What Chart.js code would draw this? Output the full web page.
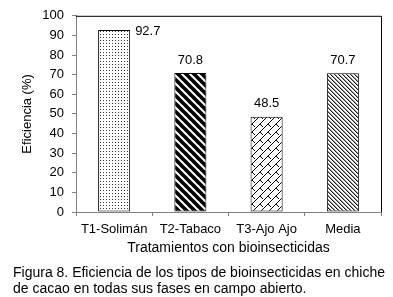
<!DOCTYPE html>
<html>
<head>
<meta charset="utf-8">
<script src="https://cdn.jsdelivr.net/npm/chart.js@4/dist/chart.umd.min.js"></script>
<style>
  html, body { margin: 0; padding: 0; background: #fff; }
  #wrap { position: relative; width: 393px; height: 297px; overflow: hidden; }
  #c { position: absolute; left: 0; top: 0; }
  .cap { position: absolute; left: 13px; font-family: "Liberation Sans", Arial, sans-serif; font-size: 14px; color: #000; white-space: nowrap; line-height: 15px; }
</style>
</head>
<body>
<div id="wrap">
  <canvas id="c" width="393" height="297"></canvas>
  <div class="cap" id="cap1" style="top:265px">Figura 8. Eficiencia de los tipos de bioinsecticidas en chiche</div>
  <div class="cap" id="cap2" style="top:281px">de cacao en todas sus fases en campo abierto.</div>
</div>
<script>
const categories = ["T1-Solimán", "T2-Tabaco", "T3-Ajo Ajo", "Media"];
const values = [92.7, 70.8, 48.5, 70.7];
const yTicks = [0, 10, 20, 30, 40, 50, 60, 70, 80, 90, 100];
const yTitle = "Eficiencia (%)";
const xTitle = "Tratamientos con bioinsecticidas";

function makeTile(w, h, draw) {
  const cv = document.createElement('canvas');
  cv.width = w; cv.height = h;
  const g = cv.getContext('2d');
  g.fillStyle = '#fff'; g.fillRect(0, 0, w, h);
  draw(g, w, h);
  return document.getElementById('c').getContext('2d').createPattern(cv, 'repeat');
}
// dotted
const patDots = makeTile(3, 3, (g) => { g.fillStyle = '#333'; g.fillRect(1, 1, 1, 1); });
// thick downward diagonal stripes
const patThick = makeTile(8, 8, (g, w, h) => {
  g.strokeStyle = '#000'; g.lineWidth = 3.6;
  for (let k = -1; k <= 1; k++) {
    g.beginPath(); g.moveTo(k * w - 2, -2); g.lineTo(k * w + w + 2, h + 2); g.stroke();
  }
});
// shingle
const patShingle = makeTile(8, 8, (g, w, h) => {
  g.strokeStyle = '#000'; g.lineWidth = 1;
  g.beginPath();
  g.moveTo(0, 8); g.lineTo(8, 0);
  g.moveTo(4, 4); g.lineTo(7, 7);
  g.moveTo(-4, 12); g.lineTo(-1, 15);
  g.stroke();
});
// fine downward diagonal
const patFine = makeTile(4, 4, (g) => {
  g.fillStyle = '#222';
  for (let i = 0; i < 4; i++) g.fillRect(i, i, 1, 1);
  g.fillStyle = '#999';
  for (let i = 0; i < 4; i++) g.fillRect((i + 1) % 4, i, 1, 1);
});
const fills = [patDots, patThick, patShingle, patFine];

const frame = {
  id: 'frame',
  afterDraw(chart) {
    const { ctx, chartArea: a } = chart;
    ctx.save();
    ctx.strokeStyle = '#000'; ctx.lineWidth = 1;
    ctx.beginPath();
    ctx.moveTo(a.left, a.top + 0.5); ctx.lineTo(a.right + 0.5, a.top + 0.5);
    ctx.lineTo(a.right + 0.5, a.bottom);
    ctx.stroke();
    ctx.restore();
  }
};
const valueLabels = {
  id: 'valueLabels',
  afterDatasetsDraw(chart) {
    const { ctx } = chart;
    const meta = chart.getDatasetMeta(0);
    ctx.save();
    ctx.font = '13px "Liberation Sans", Arial, sans-serif';
    ctx.fillStyle = '#000';
    ctx.textBaseline = 'middle';
    meta.data.forEach((bar, i) => {
      const txt = values[i].toFixed(1);
      if (i === 0) {
        ctx.textAlign = 'left';
        ctx.fillText(txt, bar.x + bar.width / 2 + 5, bar.y + 1);
      } else {
        ctx.textAlign = 'center';
        ctx.fillText(txt, bar.x, bar.y - 13);
      }
    });
    ctx.restore();
  }
};

Chart.defaults.font.family = '"Liberation Sans", Arial, sans-serif';
Chart.defaults.font.size = 13;
Chart.defaults.color = '#000';

new Chart(document.getElementById('c'), {
  type: 'bar',
  data: {
    labels: categories,
    datasets: [{
      data: values,
      backgroundColor: fills,
      borderColor: '#000',
      borderWidth: 1,
      borderSkipped: false,
      categoryPercentage: 1,
      barPercentage: 0.42
    }]
  },
  options: {
    responsive: false,
    animation: false,
    devicePixelRatio: 1,
    layout: { padding: { left: 16, right: 12, top: 12, bottom: 36 } },
    plugins: { legend: { display: false }, tooltip: { enabled: false } },
    scales: {
      x: {
        offset: true,
        grid: { offset: true, drawOnChartArea: false, drawTicks: true, tickLength: 4, color: '#808080' },
        border: { color: '#808080' },
        ticks: { padding: 6, maxRotation: 0, autoSkip: false, font: { size: 13 } },
        title: { display: true, text: xTitle, font: { size: 14 }, padding: { top: 4, bottom: 4 } },
        afterFit(s) { s.height = 49; }
      },
      y: {
        min: 0, max: 100,
        afterBuildTicks(s) { s.ticks = yTicks.map(v => ({ value: v })); },
        grid: { drawOnChartArea: false, drawTicks: true, tickLength: 4, color: '#808080' },
        border: { color: '#808080' },
        ticks: { padding: 8, font: { size: 13 } },
        title: { display: true, text: yTitle, font: { size: 13 }, padding: { top: 4, bottom: 4 } },
        afterFit(s) { s.width = 60; }
      }
    }
  },
  plugins: [frame, valueLabels]
});
</script>
</body>
</html>
